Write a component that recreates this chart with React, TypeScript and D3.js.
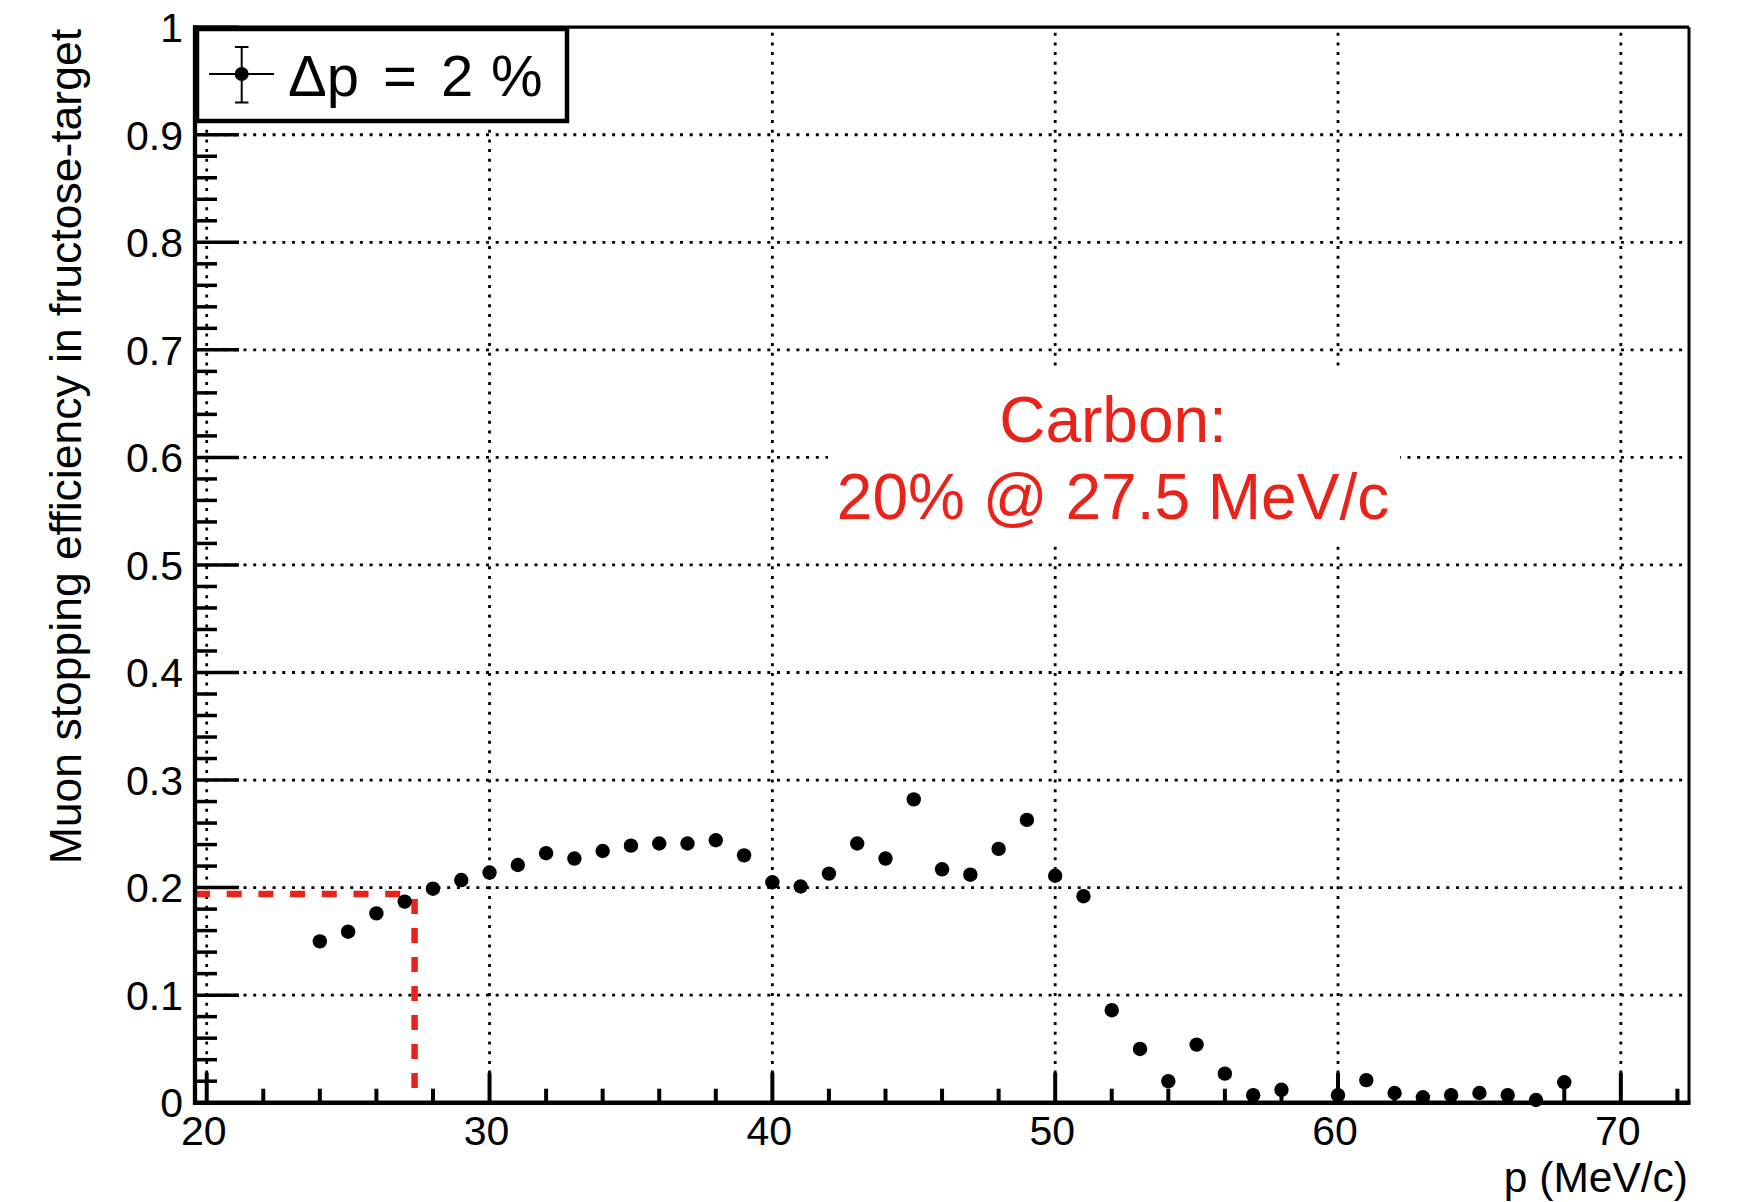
import React from "react";
import * as d3 from "d3";

// ---- data ----
const momenta = [24, 25, 26, 27, 28, 29, 30, 31, 32, 33, 34, 35, 36, 37, 38, 39, 40, 41, 42, 43, 44, 45, 46, 47, 48, 49, 50, 51, 52, 53, 54, 55, 56, 57, 58, 60, 61, 62, 63, 64, 65, 66, 67, 68];
const efficiency = [0.150, 0.159, 0.176, 0.187, 0.199, 0.207, 0.214, 0.221, 0.232, 0.227, 0.234, 0.239, 0.241, 0.241, 0.244, 0.230, 0.205, 0.201, 0.213, 0.241, 0.227, 0.282, 0.217, 0.212, 0.236, 0.263, 0.211, 0.192, 0.086, 0.050, 0.020, 0.054, 0.027, 0.007, 0.012, 0.007, 0.021, 0.009, 0.005, 0.007, 0.009, 0.007, 0.0025, 0.019];

const xMajorTicks = [20, 30, 40, 50, 60, 70];
const xTickLabels = ["20", "30", "40", "50", "60", "70"];
const yMajorTicks = [0, 0.1, 0.2, 0.3, 0.4, 0.5, 0.6, 0.7, 0.8, 0.9, 1];
const yTickLabels = ["0", "0.1", "0.2", "0.3", "0.4", "0.5", "0.6", "0.7", "0.8", "0.9", "1"];
const xDomain = [19.586, 72.41];
const yDomain = [0, 1];

const legendParts = ["Δp", "=", "2", "%"];
const annotationLines = ["Carbon:", "20% @ 27.5 MeV/c"];
const cutMomentum = 27.35;
const cutEfficiency = 0.194;
const xTitle = "p (MeV/c)";
const yTitle = "Muon stopping efficiency in fructose-target";

const W = 1742;
const H = 1202;
const FONT = "'Liberation Sans', Arial, Helvetica, sans-serif";
const RED = "#e9231a";

export default function App() {
  const left = 195, right = 1689, top = 27.2, bottom = 1102.7;
  const x = d3.scaleLinear().domain(xDomain).range([left, right]);
  const y = d3.scaleLinear().domain(yDomain).range([bottom, top]);

  const xMinor = d3.range(22, 73, 2).filter((v) => v % 10 !== 0);
  const yMinor = d3.range(0, 51).map((i) => i * 0.02).filter((v) => Math.abs(v * 10 - Math.round(v * 10)) > 1e-6);

  const gridStyle = { stroke: "#000", strokeWidth: 2.8, strokeDasharray: "3,6.7" };
  const legendX = [288, 383, 441, 491];

  return (
    <svg width={W} height={H} style={{ position: "absolute", left: 0, top: 0, display: "block", background: "#fff" }}>
      <rect x={0} y={0} width={W} height={H} fill="#fff" />
      {/* grid */}
      {xMajorTicks.map((v) => (
        <line key={"gx" + v} x1={x(v)} x2={x(v)} y1={bottom} y2={top} {...gridStyle} />
      ))}
      {yMajorTicks.filter((v) => v > 0 && v < 1).map((v) => (
        <line key={"gy" + v} x1={left} x2={right} y1={y(v)} y2={y(v)} {...gridStyle} />
      ))}

      {/* annotation white box */}
      <rect x={828} y={366} width={572} height={177} fill="#fff" />
      <text x={1113} y={442} textAnchor="middle" fontFamily={FONT} fontSize={64} fill={RED}>{annotationLines[0]}</text>
      <text x={1113} y={519} textAnchor="middle" fontFamily={FONT} fontSize={64} fill={RED}>{annotationLines[1]}</text>

      {/* red cut lines */}
      <line x1={x(xDomain[0])} x2={x(cutMomentum) - 10} y1={y(cutEfficiency)} y2={y(cutEfficiency)} stroke={RED} strokeWidth={6.5} strokeDasharray="15,16.7" />
      <line x1={x(cutMomentum)} x2={x(cutMomentum)} y1={y(cutEfficiency) + 5} y2={bottom} stroke={RED} strokeWidth={6.5} strokeDasharray="15,14" />

      {/* frame */}
      <line x1={left} x2={right} y1={top} y2={top} stroke="#000" strokeWidth={3.3} />
      <line x1={right} x2={right} y1={top} y2={bottom} stroke="#000" strokeWidth={3} />
      <line x1={left} x2={left} y1={top - 2} y2={bottom + 2} stroke="#000" strokeWidth={4.3} />
      <line x1={left - 2} x2={right + 1.5} y1={bottom} y2={bottom} stroke="#000" strokeWidth={4.5} />

      {/* ticks */}
      {xMajorTicks.map((v) => (
        <line key={"tx" + v} x1={x(v)} x2={x(v)} y1={bottom} y2={bottom - 30} stroke="#000" strokeWidth={4} />
      ))}
      {xMinor.map((v) => (
        <line key={"mx" + v} x1={x(v)} x2={x(v)} y1={bottom} y2={bottom - 14} stroke="#000" strokeWidth={4} />
      ))}
      {yMajorTicks.map((v) => (
        <line key={"ty" + v} x1={left} x2={left + 44} y1={y(v)} y2={y(v)} stroke="#000" strokeWidth={3.5} />
      ))}
      {yMinor.map((v) => (
        <line key={"my" + v} x1={left} x2={left + 22} y1={y(v)} y2={y(v)} stroke="#000" strokeWidth={3.5} />
      ))}

      {/* tick labels */}
      {xMajorTicks.map((v, i) => (
        <text key={"lx" + v} x={x(v) - 3} y={1145} textAnchor="middle" fontFamily={FONT} fontSize={41} fill="#000">{xTickLabels[i]}</text>
      ))}
      {yMajorTicks.map((v, i) => (
        <text key={"ly" + v} x={183} y={y(v)} dy="0.36em" textAnchor="end" fontFamily={FONT} fontSize={41} fill="#000">{yTickLabels[i]}</text>
      ))}

      {/* axis titles */}
      <text x={1688} y={1192} textAnchor="end" fontFamily={FONT} fontSize={42.5} fill="#000">{xTitle}</text>
      <text transform="translate(81,29) rotate(-90)" textAnchor="end" fontFamily={FONT} fontSize={44.5} fill="#000">{yTitle}</text>

      {/* data points */}
      {momenta.map((m, i) => (
        <circle key={"p" + m} cx={x(m)} cy={y(efficiency[i])} r={7.2} fill="#000" />
      ))}

      {/* legend */}
      <rect x={197} y={29} width={370} height={92} fill="#fff" stroke="#000" strokeWidth={4.5} />
      <line x1={209} x2={274} y1={74} y2={74} stroke="#000" strokeWidth={2} />
      <line x1={241.7} x2={241.7} y1={47} y2={102.5} stroke="#000" strokeWidth={2} />
      <line x1={235} x2={248.5} y1={47} y2={47} stroke="#000" strokeWidth={2} />
      <line x1={235} x2={248.5} y1={102.5} y2={102.5} stroke="#000" strokeWidth={2} />
      <circle cx={241.7} cy={74} r={7} fill="#000" />
      <text y={96} fontFamily={FONT} fontSize={58} fill="#000">
        {legendParts.map((p, i) => (
          <tspan key={"lg" + i} x={legendX[i]}>{p}</tspan>
        ))}
      </text>
    </svg>
  );
}
